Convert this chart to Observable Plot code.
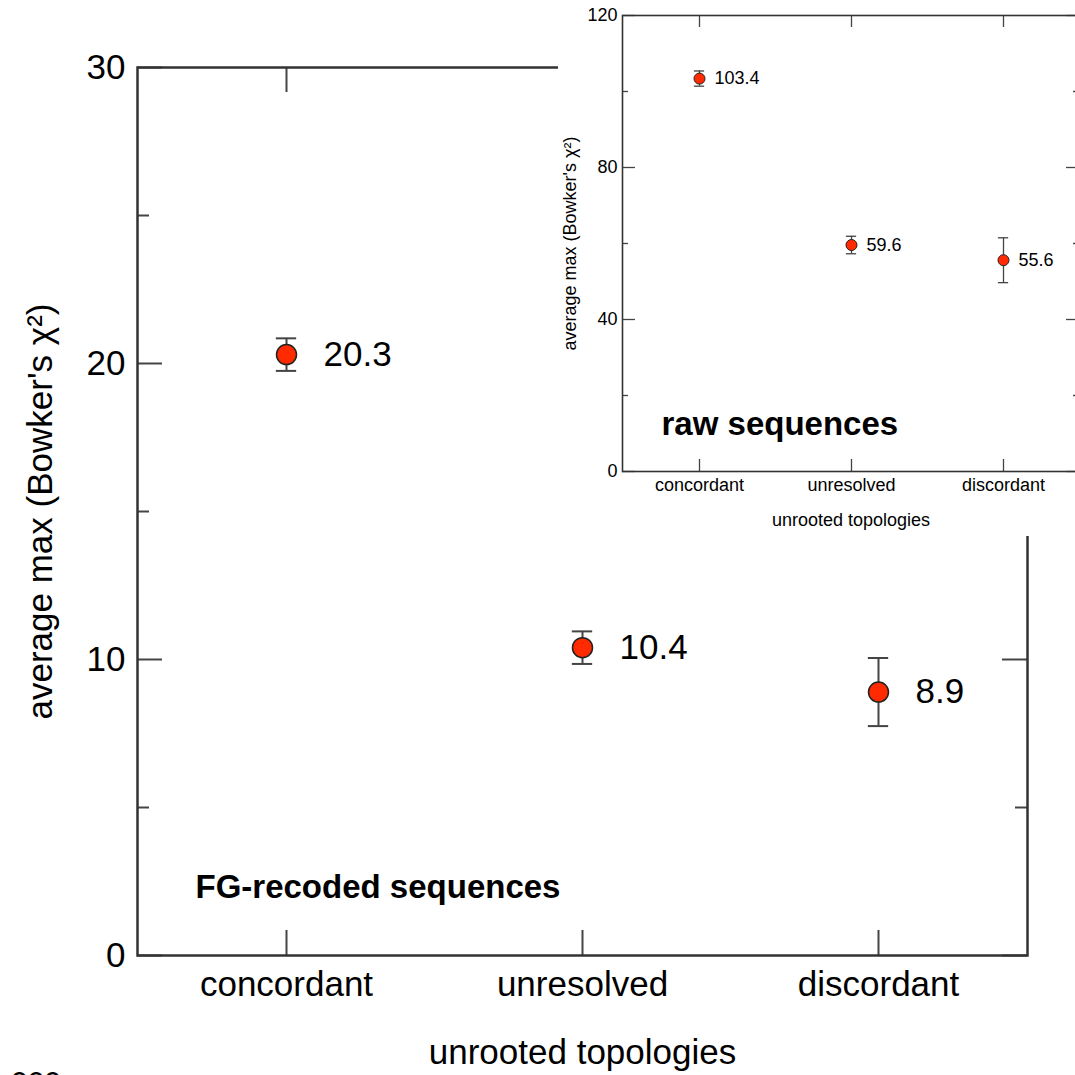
<!DOCTYPE html>
<html><head><meta charset="utf-8">
<script src="https://cdn.jsdelivr.net/npm/d3@7"></script>
<script src="https://cdn.jsdelivr.net/npm/@observablehq/plot@0.6"></script>
<style>
body{margin:0;background:#fff;overflow:hidden}
#wrap{position:relative;width:1075px;height:1075px;overflow:hidden;font-family:"Liberation Sans",Arial,Helvetica,sans-serif}
#main{position:absolute;left:0;top:0;width:1075px}
#inset{position:absolute;left:558px;top:0;width:530px;background:#fff}
#wrap svg{max-width:none !important}
#corner{position:absolute;left:11px;top:1067px;font-size:30px;line-height:1;color:#000}
</style></head><body>
<div id="wrap"><div id="main"></div><div id="inset"></div><div id="corner"></div></div>
<script>
const categories = ["concordant", "unresolved", "discordant"];
const fgValues = [20.3, 10.4, 8.9];
const fgErrors = [0.55, 0.55, 1.15];
const rawValues = [103.4, 59.6, 55.6];
const rawErrors = [2.0, 2.3, 5.9];
const fgMajorTicks = [0, 10, 20, 30];
const fgMinorTicks = [5, 15, 25];
const rawMajorTicks = [0, 40, 80, 120];
const rawMinorTicks = [20, 60, 100];
const xTitle = "unrooted topologies";
const yTitle = "average max (Bowker's χ²)";
const fgLabel = "FG-recoded sequences";
const rawLabel = "raw sequences";
const cornerText = "000";

function panel(cfg) {
  const data = categories.map((c, i) => ({cat: c, v: cfg.values[i], e: cfg.errors[i]}));
  const fw = cfg.width - cfg.ml - cfg.mr;
  const fh = cfg.height - cfg.mt - cfg.mb;
  const bw = fw / categories.length;
  const capInset = bw / 2 - cfg.cap;
  const tickStyle = {stroke: "#444", strokeWidth: cfg.tickW};
  return Plot.plot({
    width: cfg.width, height: cfg.height,
    marginLeft: cfg.ml, marginRight: cfg.mr, marginTop: cfg.mt, marginBottom: cfg.mb,
    style: {fontFamily: '"Liberation Sans", Arial, Helvetica, sans-serif', background: "white", color: "black", overflow: "visible", maxWidth: "none"},
    x: {type: "band", domain: categories, padding: 0},
    y: {domain: cfg.domain, nice: false},
    marks: [
      Plot.tickY(cfg.major, {y: d => d, insetRight: fw - cfg.majorLen, ...tickStyle}),
      Plot.tickY(cfg.major, {y: d => d, insetLeft: fw - cfg.majorLen, ...tickStyle}),
      Plot.tickY(cfg.minor, {y: d => d, insetRight: fw - cfg.minorLen, ...tickStyle}),
      Plot.tickY(cfg.minor, {y: d => d, insetLeft: fw - cfg.minorLen, ...tickStyle}),
      Plot.tickX(categories, {x: d => d, insetBottom: fh - cfg.catLen, ...tickStyle}),
      Plot.tickX(categories, {x: d => d, insetTop: fh - cfg.catLen, ...tickStyle}),
      Plot.frame({stroke: "#333", strokeWidth: cfg.frameW}),
      Plot.axisY({ticks: cfg.major, tickSize: 0, tickPadding: cfg.yPad, fontSize: cfg.fs, label: null, tickFormat: d => String(d)}),
      Plot.axisX({tickSize: 0, tickPadding: cfg.xPad, fontSize: cfg.fs, label: null}),
      Plot.ruleX(data, {x: "cat", y1: d => d.v - d.e, y2: d => d.v + d.e, stroke: "#444", strokeWidth: cfg.errW}),
      Plot.tickY(data, {x: "cat", y: d => d.v - d.e, insetLeft: capInset, insetRight: capInset, stroke: "#444", strokeWidth: cfg.errW}),
      Plot.tickY(data, {x: "cat", y: d => d.v + d.e, insetLeft: capInset, insetRight: capInset, stroke: "#444", strokeWidth: cfg.errW}),
      Plot.dot(data, {x: "cat", y: "v", r: cfg.r, fill: "#ff2a00", stroke: "#222", strokeWidth: cfg.dotW}),
      Plot.text(data, {x: "cat", y: "v", text: d => d.v.toFixed(1), dx: cfg.labelDx, textAnchor: "start", fontSize: cfg.fs, fill: "black"}),
      Plot.text([xTitle], {frameAnchor: "bottom", dy: cfg.xTitleDy, textAnchor: "middle", fontSize: cfg.fs, fill: "black"}),
      Plot.text([yTitle], {frameAnchor: "left", dx: cfg.yTitleDx, rotate: -90, textAnchor: "middle", fontSize: cfg.fs, fill: "black"}),
      Plot.text([cfg.panelLabel], {frameAnchor: "bottom-left", dx: cfg.plDx, dy: cfg.plDy, textAnchor: "start", fontWeight: "bold", fontSize: 33, fill: "black"})
    ]
  });
}

document.getElementById("main").append(panel({
  values: fgValues, errors: fgErrors, domain: [0, 30], major: fgMajorTicks, minor: fgMinorTicks,
  width: 1075, height: 1075, ml: 137, mr: 48, mt: 67, mb: 120,
  majorLen: 25, minorLen: 12, catLen: 25, tickW: 2, frameW: 2.5,
  fs: 35, yPad: 12, xPad: 16, errW: 2, cap: 10.5, r: 10, dotW: 1.5, labelDx: 37,
  xTitleDy: 108, yTitleDx: -97, panelLabel: fgLabel, plDx: 58, plDy: -58
}));

document.getElementById("inset").append(panel({
  values: rawValues, errors: rawErrors, domain: [0, 120], major: rawMajorTicks, minor: rawMinorTicks,
  width: 530, height: 536, ml: 64, mr: 9, mt: 15, mb: 65,
  majorLen: 13, minorLen: 6, catLen: 12, tickW: 1.3, frameW: 1.6,
  fs: 18, yPad: 5, xPad: 7, errW: 1.3, cap: 5.3, r: 5.5, dotW: 1, labelDx: 15,
  xTitleDy: 54, yTitleDx: -52, panelLabel: rawLabel, plDx: 39, plDy: -37
}));

document.getElementById("corner").textContent = cornerText;
</script>
</body></html>
